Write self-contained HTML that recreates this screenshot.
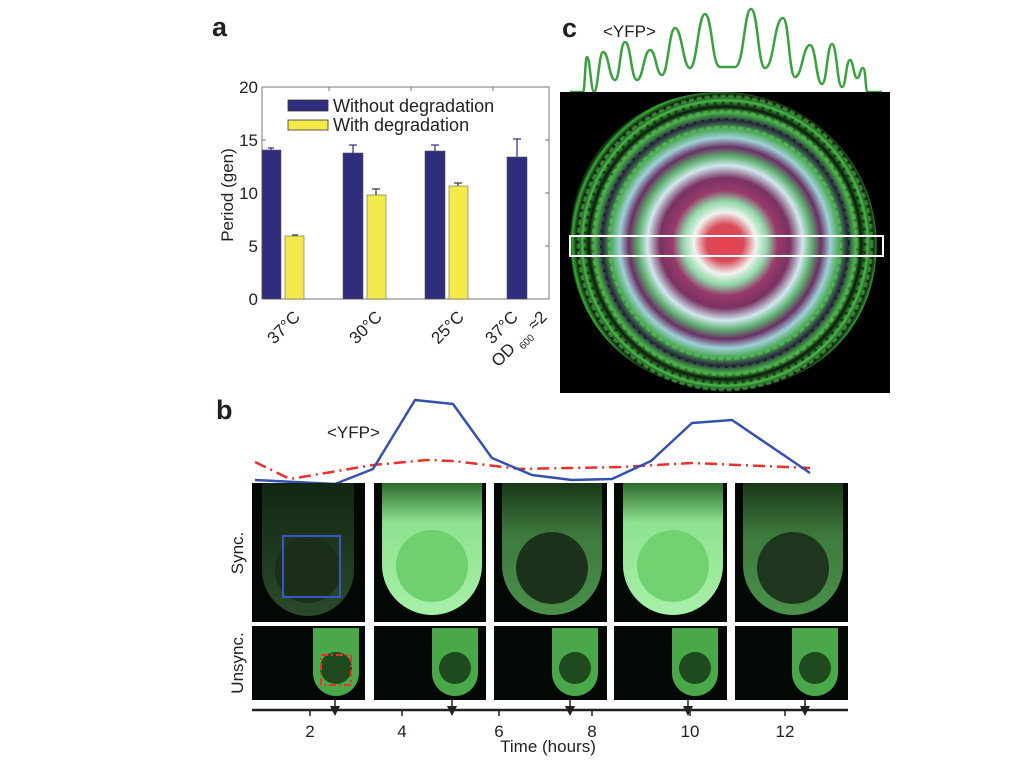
<!DOCTYPE html>
<html><head><meta charset="utf-8"><style>
body{margin:0;background:#fff;}
svg{display:block;font-family:"Liberation Sans",sans-serif;}
</style></head><body>
<svg width="1024" height="768" viewBox="0 0 1024 768" xmlns="http://www.w3.org/2000/svg">
<defs>
<radialGradient id="disk" cx="725" cy="243" r="155" gradientUnits="userSpaceOnUse">
<stop offset="0" stop-color="#e8404a"/>
<stop offset="0.12" stop-color="#d84a5a"/>
<stop offset="0.2" stop-color="#f0f4f0"/>
<stop offset="0.27" stop-color="#90d8a8"/>
<stop offset="0.34" stop-color="#983a6a"/>
<stop offset="0.42" stop-color="#7a3262"/>
<stop offset="0.5" stop-color="#d0e8ee"/>
<stop offset="0.56" stop-color="#60b070"/>
<stop offset="0.62" stop-color="#6a3064"/>
<stop offset="0.68" stop-color="#a0d0d8"/>
<stop offset="0.74" stop-color="#48a850"/>
<stop offset="0.79" stop-color="#2a2a40"/>
<stop offset="0.84" stop-color="#48b048"/>
<stop offset="0.88" stop-color="#0a1a0a"/>
<stop offset="0.92" stop-color="#48b848"/>
<stop offset="0.955" stop-color="#081808"/>
<stop offset="0.985" stop-color="#3aa83a"/>
<stop offset="1" stop-color="#103010"/>
</radialGradient>
<linearGradient id="bright" x1="0" y1="0" x2="0" y2="1">
<stop offset="0" stop-color="#2c6a2c"/><stop offset="0.3" stop-color="#8ee28e"/><stop offset="1" stop-color="#a8f0a8"/>
</linearGradient>
<linearGradient id="dim" x1="0" y1="0" x2="0" y2="1">
<stop offset="0" stop-color="#183818"/><stop offset="0.4" stop-color="#3e7a3e"/><stop offset="1" stop-color="#4a904a"/>
</linearGradient>
<linearGradient id="vdim" x1="0" y1="0" x2="0" y2="1">
<stop offset="0" stop-color="#122612"/><stop offset="1" stop-color="#2a4a2a"/>
</linearGradient>
</defs>

<!-- Panel a -->
<text x="212" y="36" font-size="27" font-weight="bold" fill="#231f20">a</text>
<rect x="262" y="87" width="287" height="212" fill="#fff" stroke="#777" stroke-width="1"/>
<g stroke="#777" stroke-width="1">
<line x1="262" y1="140" x2="266" y2="140"/><line x1="262" y1="193" x2="266" y2="193"/><line x1="262" y1="246" x2="266" y2="246"/>
<line x1="545" y1="140" x2="549" y2="140"/><line x1="545" y1="193" x2="549" y2="193"/><line x1="545" y1="246" x2="549" y2="246"/>
<line x1="329" y1="87" x2="329" y2="91"/><line x1="411" y1="87" x2="411" y2="91"/><line x1="493" y1="87" x2="493" y2="91"/>
</g>
<g font-size="17" fill="#231f20" text-anchor="end">
<text x="258" y="93">20</text><text x="258" y="146">15</text><text x="258" y="199">10</text><text x="258" y="252">5</text><text x="258" y="305">0</text>
</g>
<text transform="translate(233,195) rotate(-90)" font-size="17" fill="#231f20" text-anchor="middle">Period (gen)</text>
<g fill="#2f2d7c" stroke="#555" stroke-width="0.6">
<rect x="262" y="150" width="19" height="149"/>
<rect x="343" y="153" width="20" height="146"/>
<rect x="425" y="151" width="20" height="148"/>
<rect x="507" y="157" width="20" height="142"/>
</g>
<g fill="#f3e94a" stroke="#666" stroke-width="0.6">
<rect x="285" y="236" width="19" height="63"/>
<rect x="367" y="195" width="19" height="104"/>
<rect x="449" y="186" width="19" height="113"/>
</g>
<g stroke="#2f2d7c" stroke-width="1.2">
<line x1="271" y1="150" x2="271" y2="148"/><line x1="268" y1="148" x2="274" y2="148"/>
<line x1="353" y1="153" x2="353" y2="145"/><line x1="349" y1="145" x2="357" y2="145"/>
<line x1="435" y1="151" x2="435" y2="145"/><line x1="431" y1="145" x2="439" y2="145"/>
<line x1="517" y1="157" x2="517" y2="139"/><line x1="513" y1="139" x2="521" y2="139"/>
</g>
<g stroke="#333" stroke-width="1.2">
<line x1="292" y1="235" x2="298" y2="235"/>
<line x1="376" y1="195" x2="376" y2="189"/><line x1="372" y1="189" x2="380" y2="189"/>
<line x1="458" y1="186" x2="458" y2="183"/><line x1="454" y1="183" x2="462" y2="183"/>
</g>
<rect x="288" y="100" width="40" height="11" fill="#2f2d7c" stroke="#333" stroke-width="0.8"/>
<rect x="288" y="120" width="40" height="10" fill="#f3e94a" stroke="#333" stroke-width="0.8"/>
<text x="333" y="112" font-size="18" fill="#231f20">Without degradation</text>
<text x="333" y="131" font-size="18" fill="#231f20">With degradation</text>
<g font-size="17" fill="#231f20" text-anchor="end">
<text transform="translate(301,318) rotate(-45)">37°C</text>
<text transform="translate(383,318) rotate(-45)">30°C</text>
<text transform="translate(465,318) rotate(-45)">25°C</text>
<text transform="translate(519,318) rotate(-45)">37°C</text>
<text transform="translate(548,318) rotate(-45)">OD <tspan font-size="10" dy="5">600</tspan><tspan dy="-5"> ≈2</tspan></text>
</g>

<!-- Panel c -->
<text x="562" y="37" font-size="27" font-weight="bold" fill="#231f20">c</text>
<text x="603" y="37" font-size="17" fill="#231f20">&lt;YFP&gt;</text>
<path fill="none" stroke="#3aa13f" stroke-width="2.5" d="M570,92 L583,92 C585,92 585,57 587,57 C590,57 591,92 594,92 C598,92 599,52 603,52 C609,52 609,80 615,80 C620,80 620,42 625,42 C631,42 631,80 637,80 C643,80 644,50 650,50 C656,50 656,75 662,75 C668,75 669,28 675,28 C682,28 683,68 690,68 C697,68 698,14 705,14 C712,14 712,67 720,67 L735,67 C744,67 744,9 751,9 C758,9 758,68 765,68 C774,68 774,18 783,18 C789,18 789,77 795,77 C802,77 803,45 810,45 C816,45 816,84 822,84 C827,84 827,44 832,44 C837,44 837,87 842,87 C846,87 846,60 850,60 C853,60 854,78 857,78 C860,78 860,68 863,68 C866,68 865,92 868,92 L882,92"/>
<rect x="560" y="92" width="330" height="301" fill="#000"/>
<path d="M725,92 C800,94 868,150 876,230 C884,320 820,390 725,390 C640,390 572,330 570,245 C568,150 640,90 725,92 Z" fill="url(#disk)"/>
<g fill="none" stroke="#000" stroke-opacity="0.45" stroke-dasharray="3 5">
<circle cx="725" cy="243" r="140" stroke-width="3"/>
<circle cx="725" cy="243" r="124" stroke-width="2"/>
</g>
<g fill="none" stroke="#6ad060" stroke-opacity="0.45" stroke-dasharray="5 3">
<circle cx="725" cy="243" r="147" stroke-width="3"/>
<circle cx="725" cy="243" r="132" stroke-width="3"/>
<circle cx="725" cy="243" r="116" stroke-width="3"/>
</g>
<rect x="570" y="236" width="313" height="20" fill="none" stroke="#fff" stroke-width="2"/>

<!-- Panel b -->
<text x="216" y="419" font-size="27" font-weight="bold" fill="#231f20">b</text>
<text x="327" y="438" font-size="17" fill="#231f20">&lt;YFP&gt;</text>
<polyline fill="none" stroke="#e8322a" stroke-width="2.5" stroke-dasharray="12 5 2 5" points="255,462 290,479 373,465 427,460 453,461 520,469 621,467 692,463 810,468"/>
<polyline fill="none" stroke="#3650b0" stroke-width="2.5" stroke-linejoin="round" points="255,480 335,484 373,469 415,400 453,404 492,458 532,475 572,480 612,479 651,461 692,423 732,420 810,473"/>

<g>
<rect x="252" y="483" width="113" height="139" fill="#040804"/>
<rect x="374" y="483" width="112" height="139" fill="#040804"/>
<rect x="494" y="483" width="113" height="139" fill="#040804"/>
<rect x="614" y="483" width="113" height="139" fill="#040804"/>
<rect x="735" y="483" width="113" height="139" fill="#040804"/>
<path d="M262,483 V570 A46,46 0 0 0 354,570 V483 Z" fill="url(#vdim)"/>
<circle cx="308" cy="570" r="33" fill="#1a2e1a"/>
<path d="M382,483 V565 A50,50 0 0 0 482,565 V483 Z" fill="url(#bright)"/>
<circle cx="432" cy="566" r="36" fill="#6ed06e"/>
<path d="M502,483 V565 A50,50 0 0 0 602,565 V483 Z" fill="url(#dim)"/>
<circle cx="552" cy="568" r="36" fill="#1c321c"/>
<path d="M623,483 V565 A50,50 0 0 0 723,565 V483 Z" fill="url(#bright)"/>
<circle cx="673" cy="566" r="36" fill="#72d272"/>
<path d="M743,483 V565 A50,50 0 0 0 843,565 V483 Z" fill="url(#dim)"/>
<circle cx="793" cy="568" r="36" fill="#1e361e"/>
<rect x="283" y="536" width="57" height="61" fill="none" stroke="#3a55c8" stroke-width="2"/>
</g>
<g>
<rect x="252" y="626" width="113" height="74" fill="#040804"/>
<rect x="374" y="626" width="112" height="74" fill="#040804"/>
<rect x="494" y="626" width="113" height="74" fill="#040804"/>
<rect x="614" y="626" width="113" height="74" fill="#040804"/>
<rect x="735" y="626" width="113" height="74" fill="#040804"/>
<g fill="#4aa84a">
<path d="M313,628 V673 A23,23 0 0 0 359,673 V628 Z"/>
<path d="M432,628 V673 A23,23 0 0 0 478,673 V628 Z"/>
<path d="M552,628 V673 A23,23 0 0 0 598,673 V628 Z"/>
<path d="M672,628 V673 A23,23 0 0 0 718,673 V628 Z"/>
<path d="M792,628 V673 A23,23 0 0 0 838,673 V628 Z"/>
</g>
<g fill="#1e4a1e">
<circle cx="336" cy="668" r="16"/><circle cx="455" cy="668" r="16"/><circle cx="575" cy="668" r="16"/><circle cx="695" cy="668" r="16"/><circle cx="815" cy="668" r="16"/>
</g>
<rect x="321" y="655" width="30" height="30" fill="none" stroke="#e8322a" stroke-width="2" stroke-dasharray="7 3 2 3"/>
</g>
<text transform="translate(243,553) rotate(-90)" font-size="17" fill="#231f20" text-anchor="middle">Sync.</text>
<text transform="translate(243,663) rotate(-90)" font-size="17" fill="#231f20" text-anchor="middle">Unsync.</text>

<line x1="252" y1="710" x2="848" y2="710" stroke="#231f20" stroke-width="2.5"/>
<g stroke="#231f20" stroke-width="1.5">
<line x1="310" y1="710" x2="310" y2="716"/><line x1="402" y1="710" x2="402" y2="716"/><line x1="499" y1="710" x2="499" y2="716"/>
<line x1="592" y1="710" x2="592" y2="716"/><line x1="690" y1="710" x2="690" y2="716"/><line x1="785" y1="710" x2="785" y2="716"/>
<line x1="335" y1="700" x2="335" y2="712"/><line x1="452" y1="700" x2="452" y2="712"/><line x1="570" y1="700" x2="570" y2="712"/><line x1="688" y1="700" x2="688" y2="712"/><line x1="805" y1="700" x2="805" y2="712"/>
</g>
<g fill="#231f20">
<path d="M330,706 L340,706 L335,716 Z"/><path d="M447,706 L457,706 L452,716 Z"/><path d="M565,706 L575,706 L570,716 Z"/><path d="M683,706 L693,706 L688,716 Z"/><path d="M800,706 L810,706 L805,716 Z"/>
</g>
<g font-size="17" fill="#231f20" text-anchor="middle">
<text x="310" y="737">2</text><text x="402" y="737">4</text><text x="499" y="737">6</text><text x="592" y="737">8</text><text x="690" y="737">10</text><text x="785" y="737">12</text>
<text x="548" y="752">Time (hours)</text>
</g>
</svg>
</body></html>
